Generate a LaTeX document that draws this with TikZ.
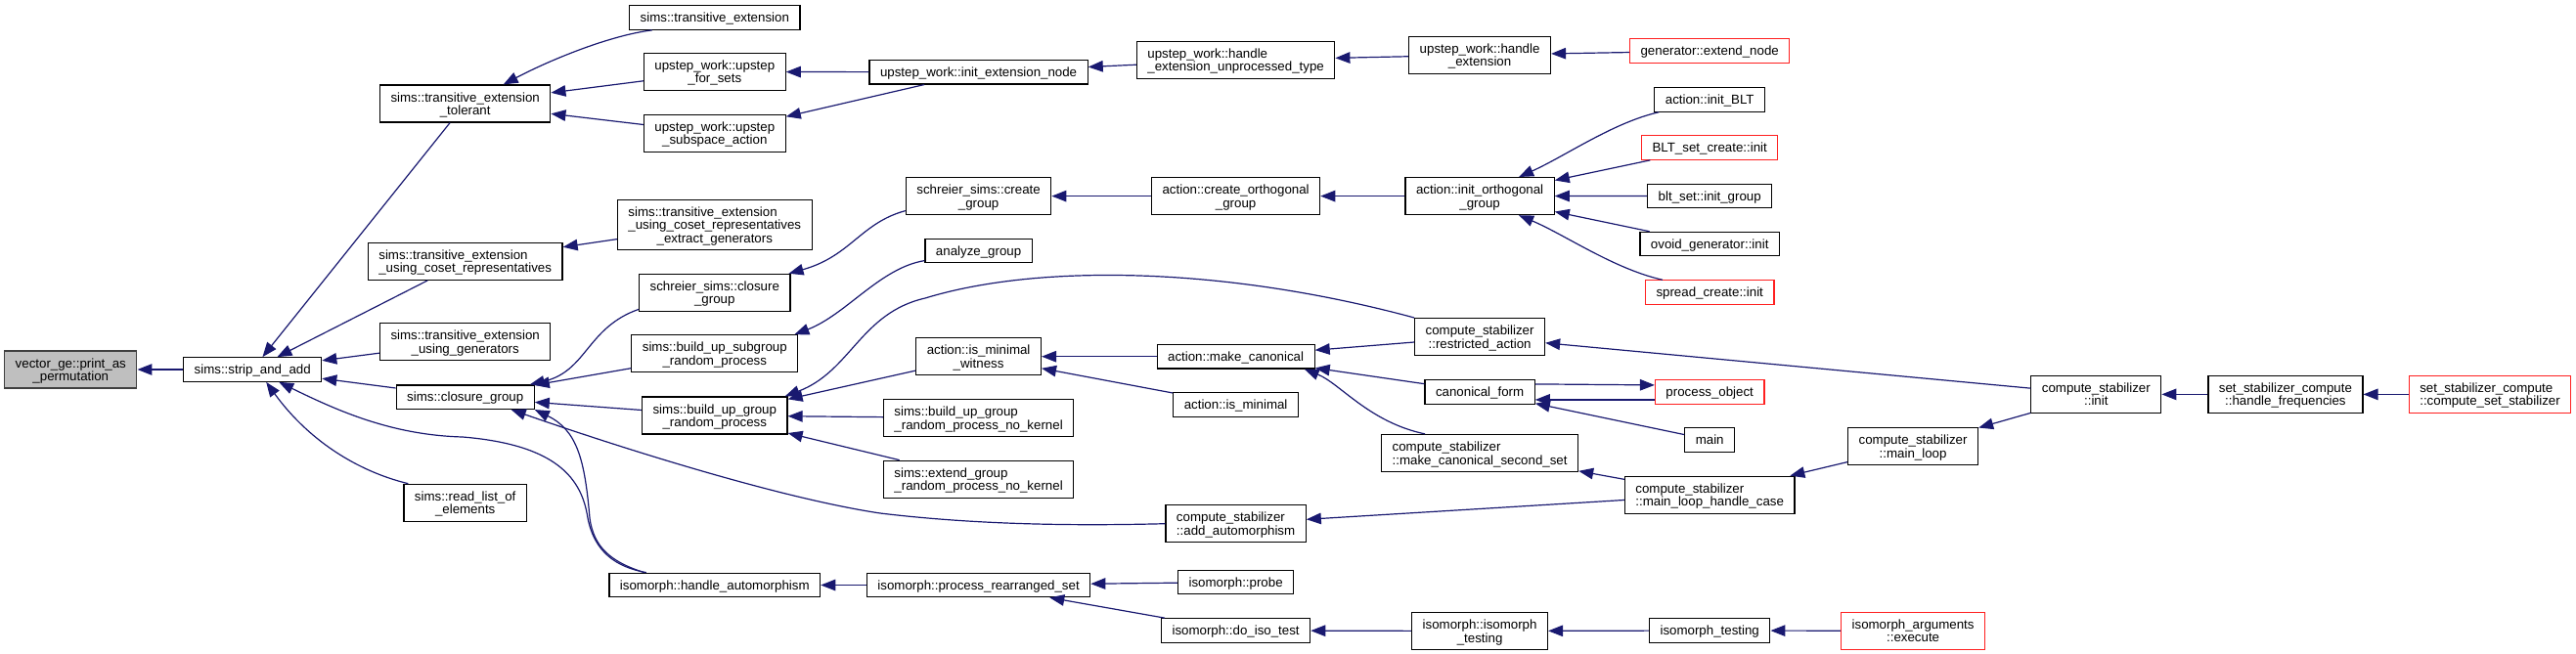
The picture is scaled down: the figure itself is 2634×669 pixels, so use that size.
\documentclass[tikz,border=0pt]{standalone}
\usepackage{fontspec}
\setmainfont{Liberation Sans}
\usetikzlibrary{arrows.meta}
\definecolor{edgeblue}{HTML}{191970}
\definecolor{rootfill}{HTML}{BFBFBF}
\definecolor{rootline}{HTML}{404040}
\definecolor{truncred}{HTML}{FF2020}

% rows are stacked by their own struts only
\renewcommand{\arraystretch}{0}
\newcommand{\rowstrut}{\rule[-2pt]{0pt}{13.5pt}}
\newcommand{\fnone}[1]{\smash{#1}\rowstrut}
\newcommand{\fntwo}[2]{\begin{tabular}{@{}l@{}}\smash{#1}\rowstrut\\\multicolumn{1}{@{}c@{}}{\smash{#2}\rowstrut}\end{tabular}}
\newcommand{\fnthree}[3]{\begin{tabular}{@{}l@{}}\smash{#1}\rowstrut\\\smash{#2}\rowstrut\\\multicolumn{1}{@{}c@{}}{\smash{#3}\rowstrut}\end{tabular}}

\begin{document}
\begin{tikzpicture}[
  x=1pt,
  y=-1pt,
  fn/.style={draw=black,line width=1.2pt,fill=white,inner xsep=11pt,inner ysep=5.5pt,
    font=\fontsize{13.3pt}{13.5pt}\selectfont},
  rootfn/.style={fn,draw=rootline,fill=rootfill},
  truncfn/.style={fn,draw=truncred},
  call/.style={draw=edgeblue,line width=1.2pt,-{Triangle[length=15pt,width=11.5pt]}}
]
  \useasboundingbox (0,0) rectangle (2634,669);

  % Ranks from left to right; every rank shares one centre line.
  \node[rootfn] (vecperm) at (72.3,378) {\fntwo{vector\_ge::print\_as}{\_permutation}};
  \node[fn] (strip) at (258.2,378) {\fnone{sims::strip\_and\_add}};

  \node[fn] (tolerant) at (475.7,106) {\fntwo{sims::transitive\_extension}{\_tolerant}};
  \node[fn] (cosetrep) at (475.7,267.3) {\fntwo{sims::transitive\_extension}{\_using\_coset\_representatives}};
  \node[fn] (usinggen) at (475.7,349.8) {\fntwo{sims::transitive\_extension}{\_using\_generators}};
  \node[fn] (closure) at (475.7,406.2) {\fnone{sims::closure\_group}};
  \node[fn] (readlist) at (475.7,514.3) {\fntwo{sims::read\_list\_of}{\_elements}};

  \node[fn] (transext) at (730.8,18) {\fnone{sims::transitive\_extension}};
  \node[fn] (forsets) at (730.8,73.5) {\fntwo{upstep\_work::upstep}{\_for\_sets}};
  \node[fn] (subspace) at (730.8,136.1) {\fntwo{upstep\_work::upstep}{\_subspace\_action}};
  \node[fn] (extractgen) at (730.8,230) {\fnthree{sims::transitive\_extension}{\_using\_coset\_representatives}{\_extract\_generators}};
  \node[fn] (ssclosure) at (730.8,299.4) {\fntwo{schreier\_sims::closure}{\_group}};
  \node[fn] (subgroup) at (730.8,361.8) {\fntwo{sims::build\_up\_subgroup}{\_random\_process}};
  \node[fn] (buildgroup) at (730.8,425) {\fntwo{sims::build\_up\_group}{\_random\_process}};
  \node[fn] (handleaut) at (730.8,598.5) {\fnone{isomorph::handle\_automorphism}};

  \node[fn] (initext) at (1000.6,73.7) {\fnone{upstep\_work::init\_extension\_node}};
  \node[fn] (sscreate) at (1000.6,200.6) {\fntwo{schreier\_sims::create}{\_group}};
  \node[fn] (analyze) at (1000.6,256.6) {\fnone{analyze\_group}};
  \node[fn] (witness) at (1000.6,364.7) {\fntwo{action::is\_minimal}{\_witness}};
  \node[fn] (nokernel) at (1000.6,427.6) {\fntwo{sims::build\_up\_group}{\_random\_process\_no\_kernel}};
  \node[fn] (extendnk) at (1000.6,490.2) {\fntwo{sims::extend\_group}{\_random\_process\_no\_kernel}};
  \node[fn] (rearranged) at (1000.6,598.5) {\fnone{isomorph::process\_rearranged\_set}};

  \node[fn] (unproc) at (1263.6,61.5) {\fntwo{upstep\_work::handle}{\_extension\_unprocessed\_type}};
  \node[fn] (createorth) at (1263.6,200.6) {\fntwo{action::create\_orthogonal}{\_group}};
  \node[fn] (makecan) at (1263.6,364.7) {\fnone{action::make\_canonical}};
  \node[fn] (isminimal) at (1263.6,414.1) {\fnone{action::is\_minimal}};
  \node[fn] (addaut) at (1263.6,535.7) {\fntwo{compute\_stabilizer}{::add\_automorphism}};
  \node[fn] (probe) at (1263.6,595.5) {\fnone{isomorph::probe}};
  \node[fn] (doiso) at (1263.6,645) {\fnone{isomorph::do\_iso\_test}};

  \node[fn] (handleext) at (1513.1,56.2) {\fntwo{upstep\_work::handle}{\_extension}};
  \node[fn] (initorth) at (1513.1,200.6) {\fntwo{action::init\_orthogonal}{\_group}};
  \node[fn] (restricted) at (1513.1,344.6) {\fntwo{compute\_stabilizer}{::restricted\_action}};
  \node[fn] (canonform) at (1513.1,400.9) {\fnone{canonical\_form}};
  \node[fn] (secondset) at (1513.1,463.5) {\fntwo{compute\_stabilizer}{::make\_canonical\_second\_set}};
  \node[fn] (isotesting) at (1513.1,645.5) {\fntwo{isomorph::isomorph}{\_testing}};

  \node[truncfn] (extendnode) at (1748.2,52.1) {\fnone{generator::extend\_node}};
  \node[fn] (initblt) at (1748.2,101.9) {\fnone{action::init\_BLT}};
  \node[truncfn] (bltcreate) at (1748.2,151) {\fnone{BLT\_set\_create::init}};
  \node[fn] (bltgroup) at (1748.2,200.4) {\fnone{blt\_set::init\_group}};
  \node[fn] (ovoid) at (1748.2,249.6) {\fnone{ovoid\_generator::init}};
  \node[truncfn] (spread) at (1748.2,299.1) {\fnone{spread\_create::init}};
  \node[truncfn] (procobj) at (1748.2,400.9) {\fnone{process\_object}};
  \node[fn] (mainfn) at (1748.2,450) {\fnone{main}};
  \node[fn] (mlhc) at (1748.2,506.2) {\fntwo{compute\_stabilizer}{::main\_loop\_handle\_case}};
  \node[fn] (isotest2) at (1748.2,645) {\fnone{isomorph\_testing}};

  \node[fn] (mainloop) at (1956.1,456.6) {\fntwo{compute\_stabilizer}{::main\_loop}};
  \node[truncfn] (execute) at (1956.1,645.3) {\fntwo{isomorph\_arguments}{::execute}};
  \node[fn] (csinit) at (2143.3,403.4) {\fntwo{compute\_stabilizer}{::init}};
  \node[fn] (handlefreq) at (2336.9,403.4) {\fntwo{set\_stabilizer\_compute}{::handle\_frequencies}};
  \node[truncfn] (setstab) at (2546,403.4) {\fntwo{set\_stabilizer\_compute}{::compute\_set\_stabilizer}};

  % Calls into the first two ranks.
  \draw[call] (strip) -- (vecperm);
  \draw[call] (tolerant) -- (strip);
  \draw[call] (cosetrep) -- (strip);
  \draw[call] (usinggen) -- (strip);
  \draw[call] (closure) -- (strip);
  \draw[call] ([xshift=5pt]readlist.north west) .. controls (365,482) and (315,450) .. ([xshift=14pt]strip.south);
  \draw[call] ([xshift=-70pt]handleaut.north) .. controls (630,580) and (608,565) .. (601,530)
    .. controls (595,490) and (570,455) .. (473,447) .. controls (400,445) and (345,420) .. ([xshift=27pt]strip.south);

  % Calls into the third rank.
  \draw[call] ([xshift=-64pt]transext.south) .. controls (625,36) and (565,60) .. ([xshift=39pt]tolerant.north);
  \draw[call] (forsets) -- (tolerant);
  \draw[call] (subspace) -- (tolerant);
  \draw[call] (extractgen) -- (cosetrep);
  \draw[call] ([yshift=-17pt]ssclosure.west) .. controls (600,335) and (600,380) .. ([xshift=-5pt]closure.north east);
  \draw[call] (subgroup) -- (closure);
  \draw[call] (buildgroup) -- (closure);
  \draw[call] ([xshift=-72pt]handleaut.north) .. controls (625,575) and (607,560) .. (603,530)
    .. controls (598,470) and (590,440) .. (closure.south east);
  \draw[call] (addaut.west) .. controls (1100,538) and (1000,537) .. (900,525)
    .. controls (800,510) and (640,460) .. ([xshift=47pt]closure.south);

  % Calls into the fourth rank.
  \draw[call] (initext) -- (forsets);
  \draw[call] (initext) -- (subspace);
  \draw[call] ([yshift=-15pt]sscreate.west) .. controls (880,228) and (870,262) .. ([xshift=-2pt]ssclosure.north east);
  \draw[call] ([yshift=-10pt]analyze.west) .. controls (900,274) and (865,322) .. ([xshift=-4pt]subgroup.north east);
  \draw[call] (restricted.north west) .. controls (1250,272) and (1060,270) .. (946,305)
    .. controls (880,320) and (870,380) .. ([xshift=-3pt]buildgroup.north east);
  \draw[call] (witness) -- (buildgroup);
  \draw[call] (nokernel) -- (buildgroup);
  \draw[call] (extendnk) -- (buildgroup);
  \draw[call] (rearranged) -- (handleaut);

  % Calls into the fifth rank.
  \draw[call] (unproc) -- (initext);
  \draw[call] (createorth) -- (sscreate);
  \draw[call] (makecan) -- (witness);
  \draw[call] (isminimal) -- (witness);
  \draw[call] (probe) -- (rearranged);
  \draw[call] (doiso) -- (rearranged);

  % Calls into the sixth rank.
  \draw[call] (handleext) -- (unproc);
  \draw[call] (initorth) -- (createorth);
  \draw[call] (restricted) -- (makecan);
  \draw[call] (canonform) -- (makecan);
  \draw[call] ([xshift=-56pt]secondset.north) .. controls (1400,432) and (1370,392) .. ([xshift=-11pt]makecan.south east);
  \draw[call] (mlhc) -- (addaut);
  \draw[call] (isotesting) -- (doiso);

  % Calls into the seventh rank.
  \draw[call] (extendnode) -- (handleext);
  \draw[call] ([xshift=5pt]initblt.south west) .. controls (1650,125) and (1600,160) .. ([xshift=40pt]initorth.north);
  \draw[call] (bltcreate) -- (initorth);
  \draw[call] (bltgroup) -- (initorth);
  \draw[call] (ovoid) -- (initorth);
  \draw[call] ([xshift=18pt]spread.north west) .. controls (1650,275) and (1600,240) .. ([xshift=40pt]initorth.south);
  \draw[call] (csinit) -- (restricted);
  \draw[call] ([yshift=8pt]canonform.east) -- ([yshift=7pt]procobj.west);
  \draw[call] ([yshift=-8pt]procobj.west) -- ([yshift=-8pt]canonform.east);
  \draw[call] (mainfn) -- (canonform);
  \draw[call] (mlhc) -- (secondset);
  \draw[call] (isotest2) -- (isotesting);

  % Remaining callers on the right.
  \draw[call] (mainloop) -- (mlhc);
  \draw[call] (execute) -- (isotest2);
  \draw[call] (csinit) -- (mainloop);
  \draw[call] (handlefreq) -- (csinit);
  \draw[call] (setstab) -- (handlefreq);
\end{tikzpicture}
\end{document}
